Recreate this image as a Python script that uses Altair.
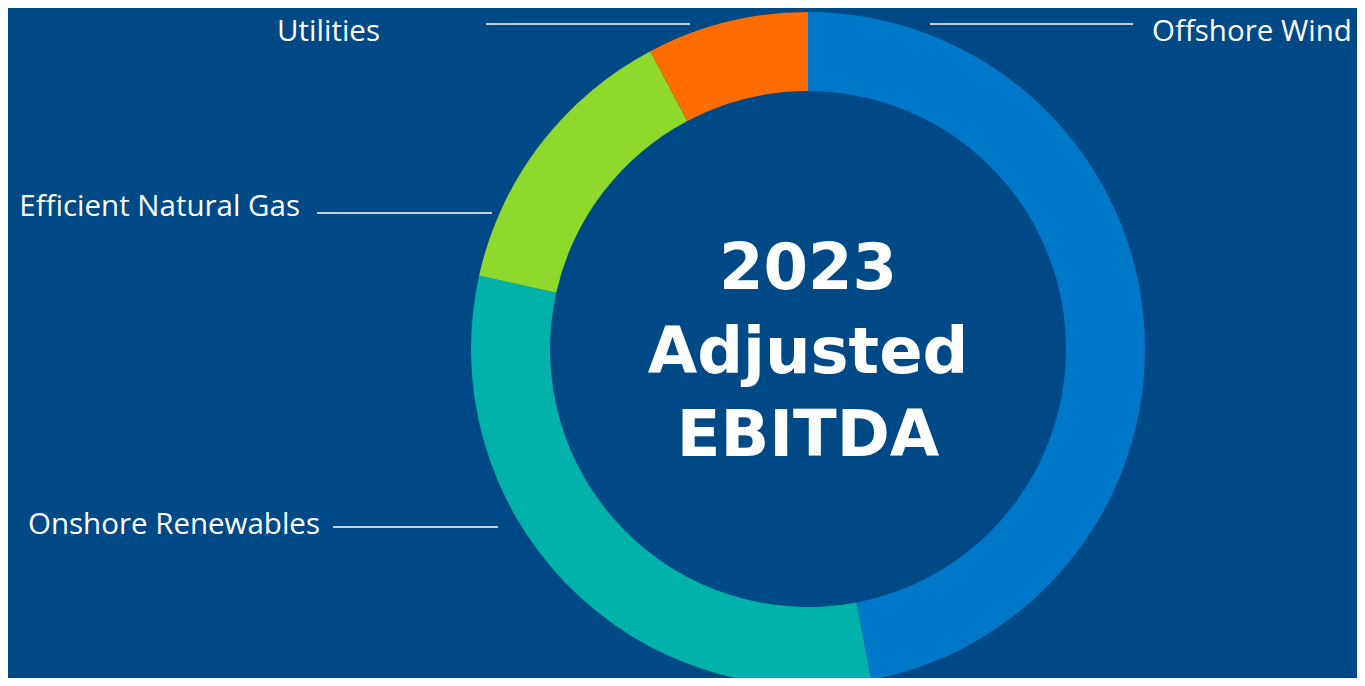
import altair as alt
import pandas as pd

# ---- data ----
categories = ["Offshore Wind", "Onshore Renewables", "Efficient Natural Gas", "Utilities"]
shares = [47.0, 31.5, 13.75, 7.75]
colors = ["#0078C9", "#00B2A9", "#8FD92C", "#FF6D00"]
center_lines = ["2023", "Adjusted", "EBITDA"]

df = pd.DataFrame({"category": categories, "share": shares, "order": list(range(len(categories)))})

# ---- layout (chart pixel coordinates) ----
W, H = 1349, 670
CX, CY = 800, 341
R_OUT, R_IN = 337, 258
BG = "#004987"
LABEL_FONT = "Open Sans"
LABEL_SIZE = 29.5

label_layout = {
    "Utilities": dict(tx=372, ty=33, align="right", x1=478, x2=682, ly=16),
    "Offshore Wind": dict(tx=1144, ty=33, align="left", x1=922, x2=1125, ly=16),
    "Efficient Natural Gas": dict(tx=292, ty=208, align="right", x1=309, x2=484, ly=205),
    "Onshore Renewables": dict(tx=312, ty=526, align="right", x1=325, x2=490, ly=519),
}

donut = alt.Chart(df).mark_arc(innerRadius=R_IN, outerRadius=R_OUT, stroke=None).encode(
    theta=alt.Theta("share:Q", stack=True),
    order=alt.Order("order:Q"),
    color=alt.Color("category:N", scale=alt.Scale(domain=categories, range=colors), legend=None),
    x=alt.value(CX),
    y=alt.value(CY),
)

one = pd.DataFrame({"k": [0]})

center_text = alt.Chart(one).mark_text(
    font="DejaVu Sans", fontWeight="bold", fontSize=64, color="white",
    align="center", baseline="alphabetic", lineHeight=83.5,
).encode(
    x=alt.value(CX), y=alt.value(CY - 60),
    text=alt.value(center_lines),
)

layers = [donut, center_text]
for name in categories:
    L = label_layout[name]
    layers.append(
        alt.Chart(one).mark_text(
            font=LABEL_FONT, fontSize=LABEL_SIZE, color="white", align=L["align"], baseline="alphabetic"
        ).encode(x=alt.value(L["tx"]), y=alt.value(L["ty"]), text=alt.value(name))
    )
    layers.append(
        alt.Chart(one).mark_rule(color="white", strokeWidth=1.6).encode(
            x=alt.value(L["x1"]), x2=alt.value(L["x2"]), y=alt.value(L["ly"])
        )
    )

chart = alt.layer(*layers).properties(
    width=W, height=H, autosize=alt.AutoSizeParams(type="none"), padding=0,
).configure(background=BG).configure_view(stroke=None)

chart.save("out.html", embed_options={"renderer": "svg", "actions": False})
